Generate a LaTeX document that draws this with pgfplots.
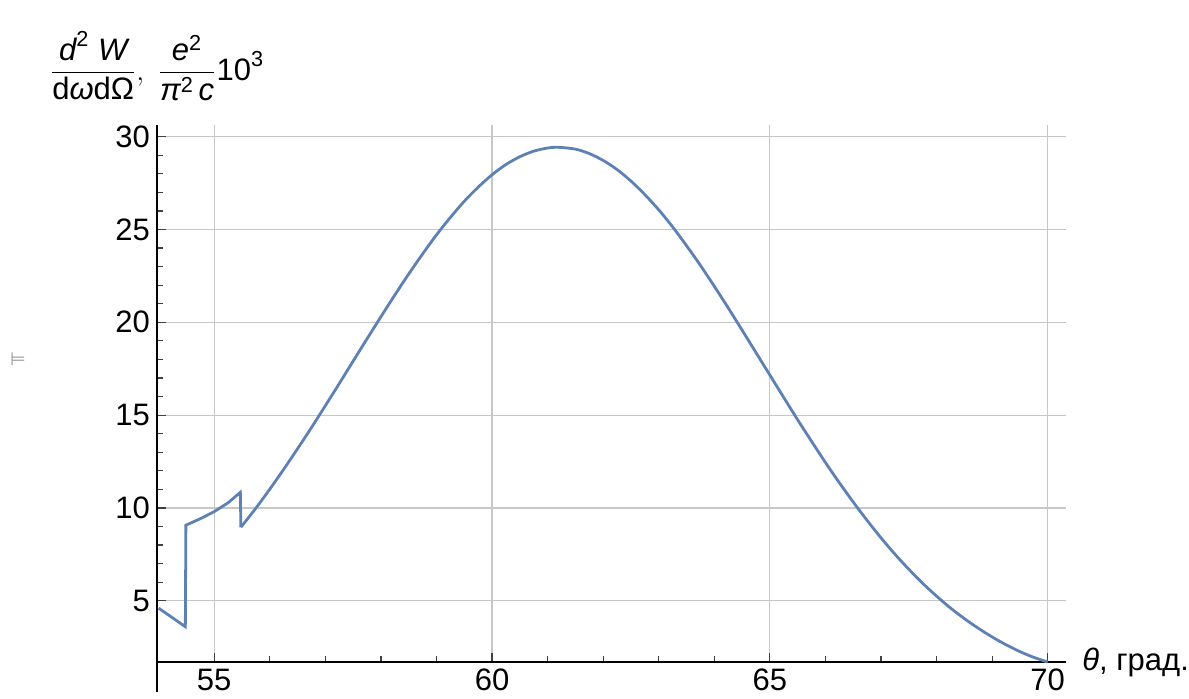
\documentclass[border=0pt]{standalone}
\usepackage{amsmath}
\usepackage{fontspec}
\setmainfont{Liberation Sans}
\newfontfamily\dejavu{DejaVu Sans}
\usepackage{pgfplots}
\pgfplotsset{compat=1.18}
\definecolor{mblue}{RGB}{94,129,181}
\begin{document}
\begin{tikzpicture}[font=\fontsize{15.5bp}{18bp}\selectfont]
\begin{axis}[
  scale only axis,
  width=454.5bp, height=268.5bp,
  xmin=53.97, xmax=70.33,
  ymin=1.70, ymax=30.63,
  axis lines*=left,
  axis line style={black, line width=0.7bp},
  xtick={55,60,65,70},
  ytick={5,10,15,20,25,30},
  minor x tick num=4,
  minor y tick num=4,
  tick align=inside,
  major tick length=4.5bp,
  minor tick length=3bp,
  tick style={black!75, line width=0.6bp},
  grid=major,
  major grid style={black!22, line width=0.6bp},
  /pgf/number format/assume math mode=true,
  ticklabel style={font=\fontsize{15.5bp}{18bp}\selectfont},
  clip=false,
]
\addplot[mblue, line width=1.4bp, line join=miter] coordinates {
 (54.00,4.60) (54.48,3.60) (54.49,9.07) (54.75,9.42) (55.00,9.80)
 (55.25,10.28) (55.47,10.84) (55.48,8.96)
};
\addplot[mblue, line width=1.4bp, smooth, tension=0.5] coordinates {
 (55.48,8.96) (55.75,9.99) (56.00,11.01) (56.25,12.08) (56.50,13.19)
 (56.75,14.33) (57.00,15.51) (57.25,16.70) (57.50,17.91) (57.75,19.11)
 (58.00,20.30) (58.25,21.47) (58.50,22.60) (58.75,23.68) (59.00,24.71)
 (59.25,25.65) (59.50,26.52) (59.75,27.28) (60.00,27.95) (60.25,28.50)
 (60.50,28.92) (60.75,29.22) (61.00,29.39) (61.19,29.43) (61.50,29.33)
 (61.75,29.09) (62.00,28.72) (62.25,28.23) (62.50,27.61) (62.75,26.88)
 (63.00,26.06) (63.25,25.14) (63.50,24.13) (63.75,23.07) (64.00,21.94)
 (64.25,20.78) (64.50,19.58) (64.75,18.37) (65.00,17.16) (65.25,15.95)
 (65.50,14.75) (65.75,13.59) (66.00,12.45) (66.25,11.36) (66.50,10.32)
 (66.75,9.33) (67.00,8.39) (67.25,7.51) (67.50,6.70) (67.75,5.94)
 (68.00,5.25) (68.25,4.61) (68.50,4.04) (68.75,3.52) (69.00,3.05)
 (69.25,2.63) (69.50,2.26) (69.75,1.95) (70.00,1.70)
};
\coordinate (sw) at (rel axis cs:0,0);
\coordinate (ne) at (rel axis cs:1,1);
\coordinate (nw) at (rel axis cs:0,1);
\coordinate (se) at (rel axis cs:1,0);
\end{axis}
\draw[black, line width=0.7bp] (sw) -- ++(0,-15bp);
\node[anchor=west, inner sep=0pt] at ([xshift=8bp]se) {\textit{θ}, град.};
\node[anchor=south, inner sep=0pt] at ([yshift=12bp]nw)
 {$\dfrac{\text{\itshape d}^{\text{2}}\ \text{\itshape W}}{\text{d\itshape ω\upshape dΩ}},\ \dfrac{\text{\itshape e}^{\text{2}}}{\text{\itshape π}^{\text{2}}\,\text{\itshape c}}\text{10}^{\text{3}}$};
\node[inner sep=0pt, text=black!40] at ([xshift=-69.5bp, yshift=151.5bp]sw) {\dejavu\fontsize{9bp}{10bp}\selectfont ⊨};
\pgfresetboundingbox
\path ([shift={(-78.5bp,-18.5bp)}]sw) rectangle ([shift={(61.5bp,62.5bp)}]ne);
\end{tikzpicture}
\end{document}
